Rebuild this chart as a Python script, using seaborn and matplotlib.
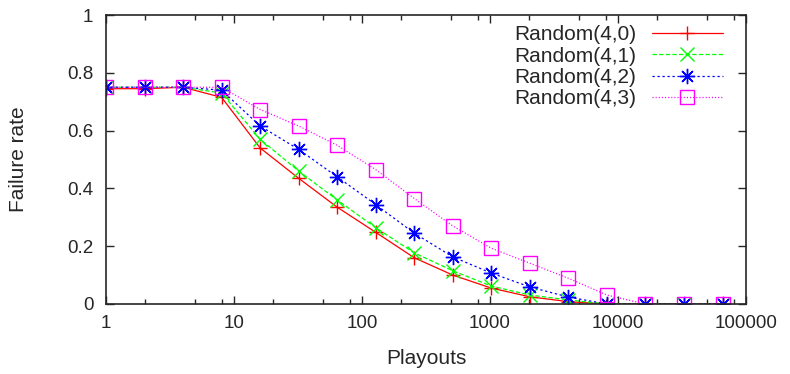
import matplotlib
matplotlib.use("Agg")
import matplotlib.pyplot as plt
import seaborn as sns
import numpy as np
import pandas as pd
from matplotlib.ticker import LogLocator, FixedLocator, NullFormatter

playouts = [1, 2, 4, 8, 16, 32, 64, 128, 256, 512, 1024, 2048, 4096, 8192, 16384, 32768, 65536]
r40 = [0.745, 0.745, 0.75, 0.715, 0.54, 0.435, 0.335, 0.248, 0.16, 0.10, 0.055, 0.025, 0.008, 0, 0, 0, 0]
r41 = [0.75, 0.75, 0.75, 0.73, 0.57, 0.46, 0.36, 0.264, 0.177, 0.115, 0.062, 0.031, 0.014, 0, 0, 0, 0]
r42 = [0.75, 0.75, 0.75, 0.74, 0.616, 0.535, 0.44, 0.344, 0.245, 0.163, 0.107, 0.059, 0.024, 0, 0, 0, 0]
r43 = [0.75, 0.75, 0.75, 0.75, 0.673, 0.616, 0.549, 0.465, 0.365, 0.27, 0.193, 0.141, 0.089, 0.031, 0, 0, 0]
labels = ["Random(4,0)", "Random(4,1)", "Random(4,2)", "Random(4,3)"]

sns.set_style("ticks")
plt.rcParams['font.family'] = ['Liberation Sans', 'DejaVu Sans']

fig = plt.figure(figsize=(7.9, 3.74), dpi=100)
L, R, T, B = 106, 746, 15, 304
ax = fig.add_axes([L/790, 1-B/374, (R-L)/790, (B-T)/374])

styles = [
    dict(color="#ff0000", ls="-", marker="+", ms=10, mew=1.0),
    dict(color="#00ff00", ls=(0, (3.5, 1.8)), marker="x", ms=9.5, mew=1.0),
    dict(color="#0000ff", ls=(0, (1.8, 2.2)), marker=(8, 2, 0), ms=11, mew=1.0),
    dict(color="#ff00ff", ls=(0, (0.9, 1.6)), marker="s", ms=10, mew=1.0, mfc="none"),
]
for vals, lab, st in zip([r40, r41, r42, r43], labels, styles):
    df = pd.DataFrame({"Playouts": playouts, "rate": vals})
    sns.lineplot(data=df, x="Playouts", y="rate", ax=ax, label=lab, lw=0.9,
                 color=st["color"], linestyle=st["ls"], marker=st["marker"],
                 markersize=st["ms"], markeredgewidth=st["mew"],
                 markerfacecolor=st.get("mfc", st["color"]), markeredgecolor=st["color"])

ax.set_xscale("log")
ax.set_xlim(1, 100000)
ax.set_ylim(0, 1)
ax.xaxis.set_major_locator(FixedLocator([1, 10, 100, 1000, 10000, 100000]))
ax.set_xticklabels(["1", "10", "100", "1000", "10000", "100000"])
ax.xaxis.set_minor_locator(LogLocator(base=10, subs=[2, 5, 8]))
ax.xaxis.set_minor_formatter(NullFormatter())
ax.set_yticks([0, 0.2, 0.4, 0.6, 0.8, 1])
ax.set_yticklabels(["0", "0.2", "0.4", "0.6", "0.8", "1"])
ax.tick_params(which="both", direction="in", top=True, right=True, labelsize=13.5, width=1)
ax.tick_params(which="major", length=6)
ax.tick_params(which="minor", length=3.5)
ax.tick_params(axis="y", pad=9)
ax.tick_params(axis="x", pad=8)
for s in ax.spines.values():
    s.set_linewidth(1.2)
ax.set_xlabel("Playouts", fontsize=15, labelpad=12)
ax.set_ylabel("Failure rate", fontsize=15, labelpad=28)

leg = ax.legend(loc="upper right", bbox_to_anchor=((720 - L) / (R - L) + 0.004, 1.0 - 10/(B-T)),
                frameon=False, markerfirst=False,
                fontsize=15, handlelength=3.4, handletextpad=0.75, labelspacing=0.12,
                borderaxespad=0.0, borderpad=0.0)

fig.savefig("out.png", dpi=100)
